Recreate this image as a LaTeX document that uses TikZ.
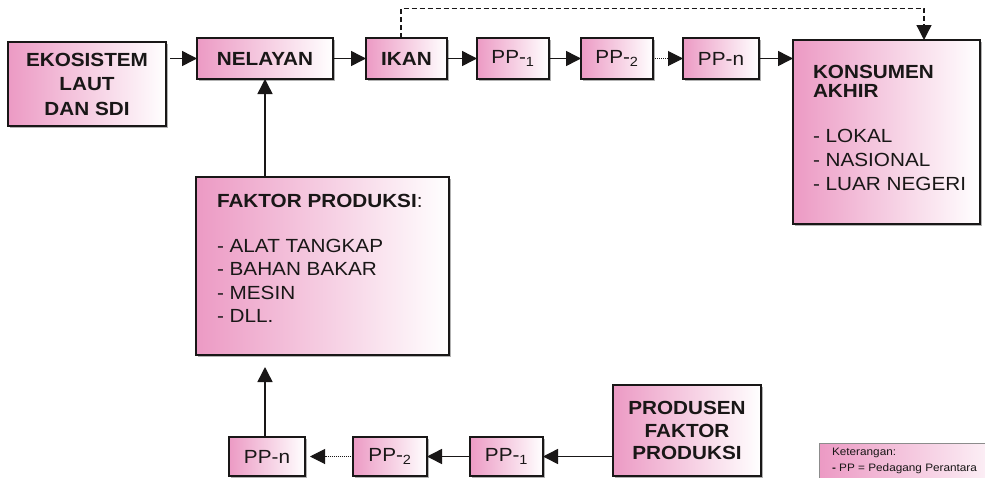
\documentclass[tikz,border=0pt]{standalone}
\usepackage{fontspec}
\setmainfont{Liberation Sans}[FakeStretch=1.09]
\usetikzlibrary{arrows.meta,calc,shadows}
\definecolor{pinkL}{RGB}{236,154,196}
\definecolor{ink}{RGB}{25,23,23}
\newcommand\hdfont{\fontsize{19}{23.5}\selectfont\bfseries}
\newcommand\lsfont{\fontsize{19}{23.5}\selectfont}
\newcommand\ketfont{\fontsize{10.8}{16}\selectfont}
\tikzset{
  pbox/.style={draw=ink, line width=1.8pt, left color=pinkL, right color=white,
    inner sep=0pt, outer sep=0pt, anchor=north west, text=ink,
    drop shadow={shadow xshift=1.6pt, shadow yshift=-1.6pt, fill=black!30, opacity=1}},
  tip/.style={-{Triangle[length=15pt,width=15pt]}},
  arr/.style={draw=ink, line width=1.5pt, tip},
  dotline/.style={draw=ink, line width=1pt, dash pattern=on 1pt off 1pt, tip},
  dashline/.style={draw=ink, line width=1.3pt, dash pattern=on 5pt off 3pt, tip},
  txt/.style={inner sep=0pt, outer sep=0pt, text=ink},
}
\begin{document}
\begin{tikzpicture}[x=1pt,y=-1pt]
\useasboundingbox (0,0) rectangle (985,477);
\fill[white] (0,0) rectangle (985,477);
\clip (0,0) rectangle (985,477);

% top row
\node[pbox, minimum width=158pt, minimum height=84pt, align=center, font=\hdfont] (eko) at (8,42)
  {EKOSISTEM\\[1pt]LAUT\\[1pt]DAN SDI};
\node[pbox, minimum width=136pt, minimum height=41pt, font=\hdfont] (nel) at (197,38) {NELAYAN};
\node[pbox, minimum width=81pt, minimum height=41pt, font=\hdfont] (ikan) at (366,38) {IKAN};
\node[pbox, minimum width=72pt, minimum height=41pt, font=\lsfont] (pp1) at (477,38) {PP-\textsubscript{1}};
\node[pbox, minimum width=72pt, minimum height=41pt, font=\lsfont] (pp2) at (581,38) {PP-\textsubscript{2}};
\node[pbox, minimum width=76pt, minimum height=41pt, font=\lsfont] (ppn) at (683,38) {PP-n};
\node[pbox, minimum width=187pt, minimum height=184pt] (kons) at (793,40) {};
\node[txt, anchor=base west, align=left, font=\lsfont] (konst) at (813,190.5)
  {{\bfseries KONSUMEN}\\[-4.5pt]{\bfseries AKHIR}\\[21.5pt]- LOKAL\\[0.5pt]- NASIONAL\\[0.5pt]- LUAR NEGERI};

% faktor produksi
\node[pbox, minimum width=253pt, minimum height=178pt] (fak) at (196,177) {};
\node[txt, anchor=base west, align=left, font=\lsfont] (fakt) at (217,322.5)
  {{\bfseries FAKTOR PRODUKSI}:\\[21.5pt]- ALAT TANGKAP\\- BAHAN BAKAR\\- MESIN\\- DLL.};

% bottom row
\node[pbox, minimum width=76pt, minimum height=39pt, font=\lsfont] (bppn) at (229,437) {PP-n};
\node[pbox, minimum width=74pt, minimum height=39pt, font=\lsfont] (bpp2) at (353,437) {PP-\textsubscript{2}};
\node[pbox, minimum width=73pt, minimum height=39pt, font=\lsfont] (bpp1) at (470,437) {PP-\textsubscript{1}};
\node[pbox, minimum width=148pt, minimum height=91pt, align=center, font=\hdfont] (prod) at (613,385)
  {PRODUSEN\\[-1pt]FAKTOR\\[-1pt]PRODUKSI};

% legend
\node[draw=black!45, line width=0.8pt, left color=pinkL, right color=white,
  minimum width=200pt, minimum height=50pt, anchor=north west, inner sep=0pt] (ket) at (819,443) {};
\node[txt, anchor=base west, align=left, font=\ketfont] (kett) at (832,471)
  {Keterangan:\\{\bfseries -} PP = Pedagang Perantara};

% connectors top
\draw[arr, shorten <=4pt] (eko.east |- nel.west) -- (nel.west);
\draw[arr] (nel.east) -- (ikan.west);
\draw[arr] (ikan.east) -- (pp1.west);
\draw[arr] (pp1.east) -- (pp2.west);
\draw[dotline] (pp2.east) -- (ppn.west);
\draw[arr] (ppn.east) -- (ppn.east -| kons.west);

\coordinate (d1) at (401,8.5);
\coordinate (d2) at (924,8.5);
\draw[dashline] (ikan.north -| d1) -- (d1) -- (d2) -- (d2 |- kons.north);

% vertical
\draw[arr] (fak.north -| nel.south) -- (nel.south);
\draw[arr, shorten >=12pt] (bppn.north -| nel.south) -- (fak.south -| nel.south);

% connectors bottom
\draw[arr] (prod.west |- bpp1.east) -- (bpp1.east);
\draw[arr] (bpp1.west) -- (bpp2.east);
\draw[dotline, shorten >=5pt] (bpp2.west) -- (bppn.east);
\end{tikzpicture}
\end{document}
